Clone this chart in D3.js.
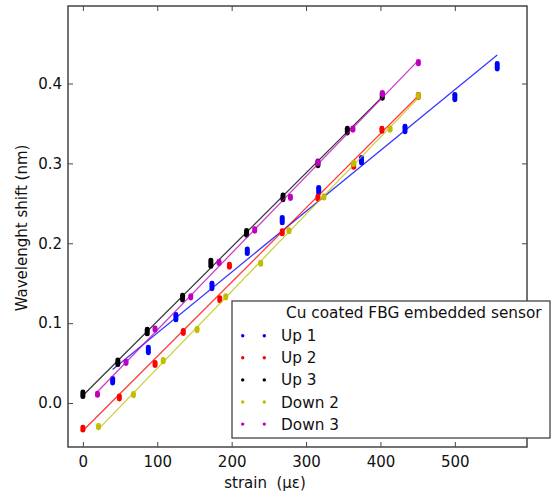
<!DOCTYPE html>
<html>
<head>
<meta charset="utf-8">
<script src="https://cdn.jsdelivr.net/npm/d3@7"></script>
<style>
  html, body { margin: 0; padding: 0; background: #fff; }
  svg { display: block; font-family: "DejaVu Sans", sans-serif; }
</style>
</head>
<body>
<svg id="chart" width="551" height="495"></svg>
<script>
// ---------------- data ----------------
const seriesNames = ["Up 1", "Up 2", "Up 3", "Down 2", "Down 3"];
const seriesColors = ["#0000ff", "#ff0000", "#000000", "#bfbf00", "#bf00bf"];

// strain (µε) per series
const up1Strain   = [40, 88, 125, 173.5, 221, 268, 317, 374.5, 433, 500, 557];
const up2Strain   = [0, 49, 97, 135, 184, 197, 268, 316, 364, 402, 451];
const up3Strain   = [0, 47, 86.5, 134, 172, 220, 269, 316, 355.5, 402.5];
const down2Strain = [21, 68, 108, 153.5, 192, 239, 277, 324, 364, 413, 451];
const down3Strain = [19.6, 58, 97, 145, 183, 231, 279, 316, 363, 402.5, 451];

// wavelength shift readings (nm): lowest and highest reading at each strain
const up1Low    = [0.025, 0.063, 0.104, 0.143, 0.187, 0.2255, 0.263, 0.3005, 0.3395, 0.3795, 0.418];
const up1High   = [0.031, 0.070, 0.111, 0.150, 0.193, 0.2325, 0.270, 0.3075, 0.3465, 0.3865, 0.425];
const up2Low    = [-0.034, 0.005, 0.047, 0.087, 0.128, 0.170, 0.2117, 0.255, 0.295, 0.340, 0.3825];
const up2High   = [-0.030, 0.009, 0.051, 0.091, 0.132, 0.174, 0.2157, 0.259, 0.299, 0.344, 0.3865];
const up3Low    = [0.008, 0.048, 0.0865, 0.129, 0.171, 0.210, 0.2545, 0.297, 0.338, 0.3815];
const up3High   = [0.014, 0.054, 0.0925, 0.135, 0.179, 0.216, 0.2605, 0.303, 0.344, 0.3875];
const down2Low  = [-0.031, 0.009, 0.0515, 0.0905, 0.1315, 0.1735, 0.2142, 0.2565, 0.2985, 0.3415, 0.383];
const down2High = [-0.028, 0.012, 0.0545, 0.0935, 0.1345, 0.1765, 0.2172, 0.2595, 0.3015, 0.3445, 0.386];
const down3Low  = [0.0095, 0.0495, 0.091, 0.1315, 0.1745, 0.215, 0.256, 0.2995, 0.3415, 0.386, 0.4245];
const down3High = [0.0125, 0.0525, 0.094, 0.1345, 0.1775, 0.2182, 0.259, 0.3025, 0.3445, 0.389, 0.4275];

const xTicks = [0, 100, 200, 300, 400, 500];
const yTicks = [0.0, 0.1, 0.2, 0.3, 0.4];
const xDomain = [-20, 597];
const yDomain = [-0.055, 0.497];

const legendTitle = "Cu coated FBG embedded sensor";
const xLabel = "strain  (\u03bc\u03b5)";
const yLabel = "Wavelenght shift (nm)";

// assemble
const strains = [up1Strain, up2Strain, up3Strain, down2Strain, down3Strain];
const lows = [up1Low, up2Low, up3Low, down2Low, down3Low];
const highs = [up1High, up2High, up3High, down2High, down3High];
const series = seriesNames.map((name, i) => ({
  name, color: seriesColors[i],
  points: strains[i].map((x, j) => ({ x, lo: lows[i][j], hi: highs[i][j], y: (lows[i][j] + highs[i][j]) / 2 }))
}));

// least squares fit for each series
function fit(points) {
  const mx = d3.mean(points, p => p.x), my = d3.mean(points, p => p.y);
  let sxy = 0, sxx = 0;
  points.forEach(p => { sxy += (p.x - mx) * (p.y - my); sxx += (p.x - mx) ** 2; });
  const b = sxy / sxx, a = my - b * mx;
  const x0 = d3.min(points, p => p.x), x1 = d3.max(points, p => p.x);
  return [{ x: x0, y: a + b * x0 }, { x: x1, y: a + b * x1 }];
}

// ---------------- layout ----------------
const svg = d3.select("#chart");
const L = 68, R = 527, T = 6, B = 447;
const x = d3.scaleLinear().domain(xDomain).range([L, R]);
const y = d3.scaleLinear().domain(yDomain).range([B, T]);

const tickFont = "15px";
const frameColor = "#444";

// series
const plot = svg.append("g");
const line = d3.line().x(d => x(d.x)).y(d => y(d.y));
series.forEach(s => {
  const g = plot.append("g");
  g.selectAll("rect").data(s.points).join("rect")
    .attr("x", d => x(d.x) - 2.5)
    .attr("width", 5)
    .attr("y", d => y(d.hi) - 2.4)
    .attr("height", d => y(d.lo) - y(d.hi) + 4.8)
    .attr("rx", 2.4)
    .attr("fill", s.color);
  g.append("path").datum(fit(s.points))
    .attr("d", line)
    .attr("fill", "none")
    .attr("stroke", s.color)
    .attr("stroke-opacity", 0.8)
    .attr("stroke-width", 1.2);
});

// axes (ticks inside on all four sides)
function styleAxis(g, labels) {
  g.select(".domain").remove();
  g.selectAll(".tick line").attr("stroke", frameColor).attr("stroke-width", 1);
  g.selectAll(".tick text").attr("fill", "#111").style("font-size", tickFont)
    .style("font-family", "DejaVu Sans");
  if (!labels) g.selectAll(".tick text").remove();
}
svg.append("g").attr("transform", `translate(0,${B})`)
  .call(d3.axisBottom(x).tickValues(xTicks).tickSize(-5).tickPadding(9).tickFormat(d3.format("d")))
  .call(g => styleAxis(g, true));
svg.append("g").attr("transform", `translate(0,${T})`)
  .call(d3.axisTop(x).tickValues(xTicks).tickSize(-5))
  .call(g => styleAxis(g, false));
svg.append("g").attr("transform", `translate(${L},0)`)
  .call(d3.axisLeft(y).tickValues(yTicks).tickSize(-5).tickPadding(6).tickFormat(d3.format(".1f")))
  .call(g => styleAxis(g, true));
svg.append("g").attr("transform", `translate(${R},0)`)
  .call(d3.axisRight(y).tickValues(yTicks).tickSize(-5))
  .call(g => styleAxis(g, false));

svg.append("rect")
  .attr("x", L).attr("y", T).attr("width", R - L).attr("height", B - T)
  .attr("fill", "none").attr("stroke", frameColor).attr("stroke-width", 1.5);

// axis labels
svg.append("text")
  .attr("x", 265).attr("y", 488)
  .attr("text-anchor", "middle")
  .style("font-size", "15px").style("white-space", "pre").attr("fill", "#111")
  .text(xLabel);
svg.append("text")
  .attr("transform", "translate(27,228) rotate(-90)")
  .attr("text-anchor", "middle")
  .style("font-size", "15px").attr("fill", "#111")
  .text(yLabel);

// legend
const lg = svg.append("g");
lg.append("rect")
  .attr("x", 232).attr("y", 301).attr("width", 318).attr("height", 137)
  .attr("fill", "#fff").attr("stroke", frameColor).attr("stroke-width", 1.3);
lg.append("text")
  .attr("x", 286).attr("y", 318)
  .style("font-size", "15.3px").attr("fill", "#111")
  .text(legendTitle);
series.forEach((s, i) => {
  const ry = 335.7 + i * 22.1;
  [242.7, 264.3].forEach(cx => lg.append("circle").attr("cx", cx).attr("cy", ry).attr("r", 1.7).attr("fill", s.color));
  lg.append("text")
    .attr("x", 281).attr("y", ry).attr("dy", "0.36em")
    .style("font-size", "15.3px").attr("fill", "#111")
    .text(s.name);
});
</script>
</body>
</html>
